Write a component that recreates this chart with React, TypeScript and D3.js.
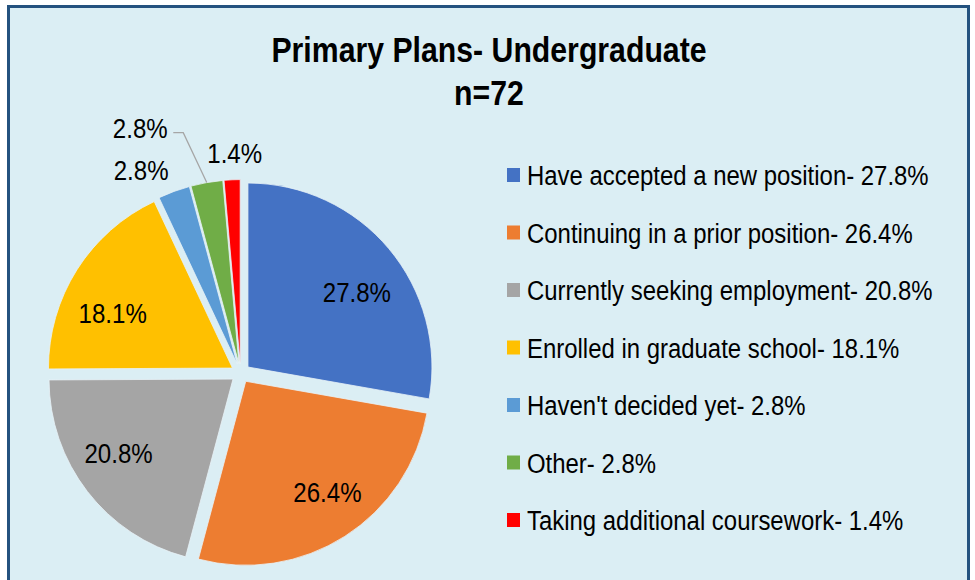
import React from 'react';
import * as d3 from 'd3';

const categories = [
  'Have accepted a new position',
  'Continuing in a prior position',
  'Currently seeking employment',
  'Enrolled in graduate school',
  "Haven't decided yet",
  'Other',
  'Taking additional coursework'
];
const percents = [27.8, 26.4, 20.8, 18.1, 2.8, 2.8, 1.4];
const colors = ['#4472C4', '#ED7D31', '#A5A5A5', '#FFC000', '#5B9BD5', '#70AD47', '#FF0000'];
const title = 'Primary Plans- Undergraduate';
const subtitle = 'n=72';

// label placement: inside for the big slices, outside for the small ones
const outsideLabel = [false, false, false, false, true, true, true];
const labelNudge = [[4, 13], [8, -5], [-6, -10], [-4, 18], [-22, 8], [-61, -24], [4, 4]];
const leaderLine = [false, false, false, false, false, true, false];

const W = 975, H = 580;
const cx = 240.6, cy = 373.2, radius = 184, explode = 9.6;
const font = '"Liberation Sans", Arial, sans-serif';
const squeeze = 0.86; // the original text is a bit narrow

function NarrowText(props: { x: number; y: number; size: number; anchor?: string; bold?: boolean; sx?: number; children: React.ReactNode }) {
  return (
    <text transform={`translate(${props.x},${props.y}) scale(${props.sx || squeeze},1)`}
      dy="0.36em" textAnchor={props.anchor || 'start'} fontFamily={font}
      fontWeight={props.bold ? 'bold' : 'normal'} fontSize={props.size} fill="#000">
      {props.children}
    </text>
  );
}

export default function App() {
  const pie = d3.pie<number>().value(d => d).sort(null);
  const slices = pie(percents);
  const arc = d3.arc<d3.PieArcDatum<number>>().innerRadius(0).outerRadius(radius);

  const dirOf = (s: d3.PieArcDatum<number>) => {
    const a = (s.startAngle + s.endAngle) / 2;
    return [Math.sin(a), -Math.cos(a)];
  };

  const legendY = d3.scalePoint<string>().domain(categories).range([175, 520]);

  return (
    <div style={{ position: 'fixed', left: 0, top: 0 }}>
      <svg width={W} height={H} style={{ display: 'block' }}>
        <rect x={0} y={0} width={W} height={H} fill="#ffffff" />
        <rect x={8.5} y={6.5} width={960} height={620} fill="#DBEEF4" stroke="#24527F" strokeWidth={3} />

        <NarrowText x={489} y={49} size={36} sx={0.84} anchor="middle" bold>{title}</NarrowText>
        <NarrowText x={489} y={92} size={36} sx={0.84} anchor="middle" bold>{subtitle}</NarrowText>

        <g transform={`translate(${cx},${cy})`}>
          {slices.map((s, i) => {
            const [dx, dy] = dirOf(s);
            return (
              <path key={i} d={arc(s) || ''} fill={colors[i]}
                stroke="#E8F3F7" strokeWidth={0.8}
                transform={`translate(${dx * explode},${dy * explode})`} />
            );
          })}
          {slices.map((s, i) => {
            const [dx, dy] = dirOf(s);
            const rr = outsideLabel[i] ? 225 : 137 + explode;
            const lx = dx * rr + labelNudge[i][0];
            const ly = dy * rr + labelNudge[i][1];
            const ox = dx * (radius + explode), oy = dy * (radius + explode);
            return (
              <g key={'l' + i}>
                {leaderLine[i] && (
                  <polyline fill="none" stroke="#A6A6A6" strokeWidth={1.3}
                    points={`${lx + 33},${ly + 5} ${lx + 43},${ly + 5} ${ox},${oy}`} />
                )}
                <NarrowText x={lx} y={ly} size={28} anchor="middle">
                  {percents[i].toFixed(1) + '%'}
                </NarrowText>
              </g>
            );
          })}
        </g>

        <g>
          {categories.map((c, i) => (
            <g key={c} transform={`translate(507,${legendY(c)})`}>
              <rect x={0} y={-7} width={13} height={14} fill={colors[i]} />
              <NarrowText x={20} y={0} size={28} sx={0.855}>
                {`${c}- ${percents[i].toFixed(1)}%`}
              </NarrowText>
            </g>
          ))}
        </g>
      </svg>
    </div>
  );
}
